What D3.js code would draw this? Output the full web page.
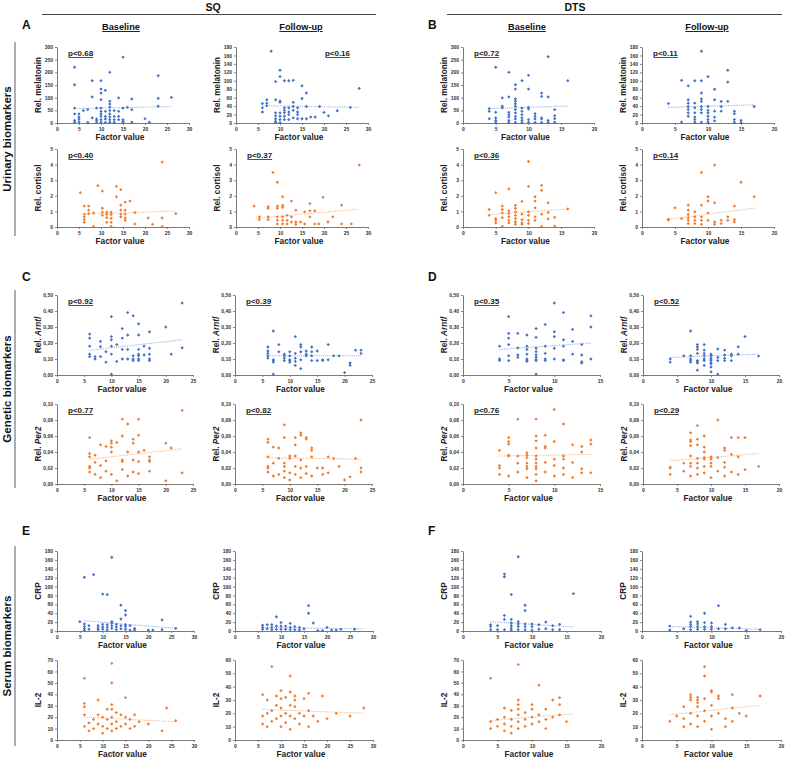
<!DOCTYPE html>
<html><head><meta charset="utf-8">
<script src="https://cdn.jsdelivr.net/npm/d3@7/dist/d3.min.js"></script>
<style>body{margin:0;background:#fff;}svg{display:block;font-family:"Liberation Sans",Arial,sans-serif;}</style>
</head><body><svg id="c" width="789" height="760"></svg>
<script>
// ---------------- DATA ----------------
const groups = ["SQ", "DTS"];
const timepoints = ["Baseline", "Follow-up"];
const panelLetters = ["A", "B", "C", "D", "E", "F"];
const rowLabels = ["Urinary biomarkers", "Genetic biomarkers", "Serum biomarkers"];

// SQ baseline melatonin [factor, value]
const sqBMel = [[4,220],[4,151],[4,59],[4,36],[4,10],[4,3],[5,36],[5,24],[5,16],[5,5],[6,49],[7,53],[7,2],
[8,167],[8,103],[8,20],[9,59],[9,16],[9,10],[9,2],[10,167],[10,134],[10,118],[10,92],[10,59],[10,46],[10,36],[10,26],[10,13],[10,3],
[11,129],[11,46],[11,26],[11,16],[11,2],[12,200],[12,86],[12,75],[12,63],[12,49],[12,36],[12,24],[12,13],[12,3],
[13,49],[13,26],[13,13],[13,2],[14,99],[14,46],[14,26],[14,13],[15,260],[15,59],[15,13],[15,7],[15,2],
[16,62],[17,95],[17,53],[17,3],[20,17],[21,3],[23,187],[23,97],[23,66],[26,101]];
const sqBMelTrend = [4.5,57,26,65];
const sqFMel = [[8,170],[9,98],[10,125],[10,110],[11,100],[12,100],[13,101],[15,88],[16,71],[15,58],[16,39],
[13,49],[13,39],[13,30],[10,52],[10,49],[9,55],[7,55],[7,47],[7,41],[6,46],[6,36],[6,26],
[9,24],[9,17],[9,10],[9,4],[10,24],[10,16],[10,8],[10,1],[11,36],[11,30],[11,24],[11,16],[11,8],
[12,36],[12,26],[12,20],[12,8],[14,36],[14,26],[14,20],[14,10],[13,12],[15,10],[16,10],[17,14],[18,14],
[19,39],[20,25],[21,17],[23,29],[26,37],[28,82],[9,1]];
const sqFMelTrend = [6,41,28,37];
const dtsBMel = [[4,57],[4,46],[4,17],[5,220],[5,42],[5,20],[5,10],[5,2],[6,99],[6,66],[6,60],
[7,200],[7,103],[7,42],[7,33],[7,24],[7,10],[7,2],[8,151],[8,134],[8,95],[8,86],[8,76],[8,66],[8,53],[8,40],[8,26],[8,16],[8,2],
[9,167],[9,59],[9,46],[9,33],[9,20],[9,10],[9,1],[10,188],[10,134],[10,62],[10,55],[10,13],[10,2],
[11,37],[11,26],[11,16],[11,2],[12,118],[12,105],[12,20],[12,16],[12,2],[13,262],[13,103],[13,10],[13,2],
[14,53],[14,29],[14,17],[14,3],[16,167]];
const dtsBMelTrend = [4,57,16,67];
const dtsFMel = [[4,46],[6,101],[6,2],[7,88],[7,55],[7,47],[7,39],[7,32],[7,24],[7,16],
[8,100],[8,47],[8,36],[8,24],[8,14],[8,8],[8,2],[9,170],[9,100],[9,71],[9,57],[9,51],[9,39],[9,32],[9,24],[9,2],
[10,110],[10,39],[10,30],[10,24],[10,16],[10,8],[10,2],[11,80],[11,55],[11,28],[11,14],[11,5],
[12,51],[12,39],[12,28],[13,125],[13,97],[13,51],[14,28],[14,22],[14,8],[14,2],[15,6],[15,1],[17,39]];
const dtsFMelTrend = [4,37,17,43];

const sqBCor = [[6.2,1.34],[6.2,0.82],[6.2,0.65],[6.2,0.47],[6.2,0.3],[7.2,1.34],[7.2,1.08],[7.2,0.86],[5.3,2.2],[8.3,0.9],[8.3,0.04],
[9.3,2.65],[10.3,2.3],[10.3,1.2],[10.3,0.95],[10.3,0.75],[11.3,0.95],[11.3,0.8],[11.3,0.6],[11.3,0.3],
[12.3,0.95],[12.3,0.8],[12.3,0.55],[12.3,0.3],[12.3,0.04],[13.5,2.6],[13.5,1.94],[14.5,2.4],[14.5,1.4],[14.5,1.08],[14.5,0.82],[14.5,0.65],
[15.5,1.6],[15.5,1.08],[15.5,0.82],[15.5,0.58],[15.5,0.43],[16.6,1.66],[17.7,0.93],[17.7,0.2],[20.7,0.58],[21.7,0.17],[23.9,4.16],[23.9,0.58],[23.9,0.04],[27,0.86]];
const sqBCorTrend = [6,0.82,27,1.02];
const sqFCor = [[4.1,1.34],[5.3,0.65],[5.3,0.47],[7.3,0.65],[7.3,0.47],[7.3,1.3],[7.3,1.2],[8.4,3.5],[9.4,2.87],[9.4,1.34],[9.4,1.2],[9.4,0.65],[9.4,0.43],[9.4,0.2],
[10.6,1.94],[10.6,1.38],[10.6,1.25],[10.6,0.65],[10.6,0.43],[10.6,0.2],[11.6,0.75],[11.6,0.43],[11.6,0.2],[12.6,1.66],[12.6,0.65],[12.6,0.32],
[13.6,1.08],[13.6,0.32],[13.6,0.17],[14.7,0.32],[15.6,0.97],[15.6,0.2],[16.8,1.5],[16.8,1.03],[16.8,0.65],[17.9,1.03],[17.9,0.2],[18.8,0.2],
[19.8,1.9],[20.9,0.32],[22,0.65],[24,1.4],[24,0.2],[26.2,0.2],[28,3.97]];
const sqFCorTrend = [4.5,0.55,28,1.15];
const dtsBCor = [[4,1.12],[4,0.75],[5,2.2],[5,0.54],[5,0.43],[5,0.26],[6,1.34],[6,1.12],[6,0.9],[6,0.6],[6,0.04],
[7,2.44],[7,1.03],[7,0.86],[7,0.65],[7,0.43],[7,0.26],[8,1.4],[8,1.2],[8,0.97],[8,0.75],[8,0.54],[8,0.32],[8,0.17],
[9,1.64],[9,0.82],[9,0.47],[9,0.26],[9,0.17],[10,4.2],[10,2.6],[10,0.97],[10,0.75],[10,0.43],[10,0.22],
[11,1.94],[11,1.66],[11,1.23],[11,0.65],[11,0.43],[12,2.67],[12,2.35],[12,0.82],[12,0.04],
[13,1.55],[13,0.93],[13,0.52],[14,0.62],[14,0.06],[16,1.16]];
const dtsBCorTrend = [4,0.8,16,1.15];
const dtsFCor = [[4,0.5],[4,0.45],[5,1.23],[6,0.54],[7,1.4],[7,1.08],[7,0.8],[7,0.6],[7,0.43],[7,0.22],
[8,0.97],[8,0.65],[8,0.43],[8,0.22],[9,3.5],[9,1.4],[9,0.65],[9,0.43],[9,0.17],[10,1.94],[10,1.66],[10,0.9],[10,0.43],
[11,3.97],[11,1.55],[11,0.32],[11,0.17],[12,0.43],[12,0.22],[13,0.65],[13,0.43],[14,1.34],[14,0.47],[14,0.32],[15,2.87],[17,1.94]];
const dtsFCorTrend = [4,0.5,17,1.2];

const sqBArn = [[6,0.256],[6,0.23],[6,0.18],[6,0.13],[6,0.115],[7,0.115],[7,0.10],[8,0.21],[8,0.177],[8,0.115],[9,0.146],[9,0.08],
[10,0.365],[10,0.24],[10,0.22],[10,0.18],[10,0.13],[10,0.005],[11,0.19],[11,0.085],[12,0.29],[12,0.23],[12,0.16],[12,0.10],
[13,0.39],[13,0.25],[13,0.16],[13,0.10],[14,0.37],[14,0.12],[14,0.10],[14,0.09],[15,0.32],[15,0.25],[15,0.16],[15,0.13],[15,0.12],[15,0.10],[15,0.09],
[16,0.18],[16,0.125],[17,0.27],[17,0.167],[17,0.13],[17,0.10],[17,0.09],[20,0.30],[21,0.13],[23,0.45],[23,0.17]];
const sqBArnTrend = [6,0.155,23,0.22];
const sqFArn = [[6,0.175],[6,0.15],[6,0.135],[6,0.12],[6,0.105],[7,0.275],[7,0.095],[7,0.08],[7,0.09],[7,0.005],
[8,0.19],[8,0.145],[9,0.13],[9,0.12],[9,0.105],[9,0.09],[10,0.145],[10,0.12],[10,0.095],[10,0.08],[10,0.09],
[11,0.24],[11,0.135],[11,0.105],[11,0.085],[11,0.06],[12,0.19],[12,0.175],[12,0.145],[12,0.095],[12,0.04],
[13,0.15],[13,0.13],[13,0.12],[14,0.175],[14,0.145],[14,0.12],[14,0.09],[15,0.15],[15,0.09],[16,0.095],[16,0.09],
[17,0.19],[17,0.095],[18,0.12],[19,0.12],[20,0.015],[21,0.075],[21,0.06],[22,0.155],[23,0.155],[23,0.135]];
const sqFArnTrend = [6,0.12,23,0.12];
const dtsBArn = [[4,0.18],[4,0.10],[4,0.09],[5,0.365],[5,0.26],[5,0.23],[5,0.19],[5,0.12],[5,0.09],
[6,0.26],[6,0.17],[6,0.125],[6,0.11],[7,0.25],[7,0.18],[7,0.16],[7,0.13],[7,0.10],[7,0.09],[7,0.085],
[8,0.29],[8,0.235],[8,0.167],[8,0.146],[8,0.125],[8,0.11],[8,0.095],[8,0.09],[8,0.005],
[9,0.315],[9,0.18],[9,0.135],[9,0.10],[9,0.09],[10,0.45],[10,0.27],[10,0.24],[10,0.167],[10,0.10],
[11,0.39],[11,0.22],[11,0.18],[11,0.095],[11,0.09],[12,0.285],[12,0.21],[12,0.13],
[13,0.19],[13,0.125],[13,0.083],[13,0.075],[14,0.37],[14,0.30],[14,0.10]];
const dtsBArnTrend = [4,0.16,14,0.20];
const dtsFArn = [[4,0.10],[4,0.08],[6,0.12],[7,0.275],[7,0.12],[7,0.10],[7,0.09],[7,0.08],
[8,0.19],[8,0.175],[8,0.16],[8,0.135],[8,0.085],[8,0.075],[8,0.09],[8,0.03],
[9,0.19],[9,0.156],[9,0.135],[9,0.12],[9,0.10],[9,0.09],[9,0.06],
[10,0.13],[10,0.12],[10,0.105],[10,0.095],[10,0.075],[10,0.09],[10,0.07],[10,0.05],[10,0.02],
[11,0.163],[11,0.11],[11,0.09],[11,0.005],[12,0.156],[12,0.125],[12,0.105],[12,0.09],
[13,0.13],[13,0.12],[13,0.09],[14,0.176],[14,0.13],[15,0.24],[17,0.118]];
const dtsFArnTrend = [4,0.11,17,0.13];

const sqBPer = [[6,0.058],[6,0.038],[6,0.034],[6,0.022],[6,0.02],[6,0.015],[7,0.036],[7,0.027],[7,0.012],
[8,0.049],[8,0.023],[8,0.008],[9,0.047],[9,0.029],[9,0.016],[10,0.054],[10,0.051],[10,0.046],[10,0.04],[10,0.012],
[11,0.052],[11,0.004],[12,0.081],[12,0.06],[12,0.03],[12,0.028],[12,0.018],[13,0.075],[13,0.04],[13,0.01],
[14,0.056],[14,0.051],[14,0.03],[14,0.015],[15,0.081],[15,0.061],[15,0.04],[15,0.028],[15,0.013],
[16,0.042],[17,0.034],[17,0.03],[17,0.028],[17,0.016],[20,0.051],[20,0.004],[21,0.045],[23,0.092],[23,0.014]];
const sqBPerTrend = [6,0.031,23,0.044];
const sqFPer = [[6,0.056],[6,0.052],[6,0.034],[6,0.022],[6,0.02],[6,0.015],[7,0.046],[7,0.026],[7,0.01],
[8,0.045],[8,0.032],[8,0.012],[9,0.074],[9,0.058],[9,0.026],[9,0.022],[9,0.008],[9,0.016],[10,0.035],[10,0.032],[10,0.014],[10,0.005],
[11,0.058],[11,0.049],[11,0.035],[11,0.022],[11,0.012],[12,0.064],[12,0.061],[12,0.03],[12,0.02],[12,0.008],
[13,0.058],[13,0.056],[13,0.022],[13,0.013],[14,0.045],[14,0.042],[14,0.034],[14,0.01],[15,0.02],[16,0.02],[16,0.012],
[17,0.034],[17,0.014],[18,0.032],[19,0.022],[20,0.005],[21,0.009],[22,0.032],[23,0.08],[23,0.02],[23,0.015]];
const sqFPerTrend = [6,0.033,23,0.031];
const dtsBPer = [[4,0.042],[4,0.023],[4,0.02],[4,0.012],[5,0.058],[5,0.053],[5,0.05],[5,0.036],[5,0.035],[5,0.01],
[6,0.081],[6,0.035],[6,0.026],[6,0.015],[7,0.039],[7,0.036],[7,0.033],[7,0.026],[7,0.022],[7,0.019],[7,0.008],
[8,0.081],[8,0.06],[8,0.054],[8,0.045],[8,0.035],[8,0.031],[8,0.026],[8,0.022],[8,0.019],[8,0.012],[8,0.004],
[9,0.061],[9,0.047],[9,0.045],[9,0.027],[9,0.015],[10,0.093],[10,0.053],[10,0.031],[10,0.023],[10,0.01],
[11,0.075],[11,0.035],[11,0.031],[11,0.02],[11,0.012],[12,0.049],[12,0.027],[12,0.008],
[13,0.047],[13,0.04],[13,0.019],[13,0.014],[14,0.055],[14,0.05],[14,0.014]];
const dtsBPerTrend = [4,0.035,14,0.037];
const dtsFPer = [[4,0.021],[4,0.02],[4,0.012],[6,0.026],[6,0.016],[7,0.064],[7,0.055],[7,0.053],[7,0.048],[7,0.035],[7,0.026],[7,0.022],[7,0.01],
[8,0.073],[8,0.056],[8,0.049],[8,0.032],[8,0.026],[8,0.02],[8,0.012],[9,0.06],[9,0.046],[9,0.04],[9,0.033],[9,0.031],[9,0.022],[9,0.014],
[10,0.034],[10,0.031],[10,0.026],[10,0.022],[10,0.008],[11,0.08],[11,0.033],[11,0.016],[12,0.045],[12,0.042],[12,0.027],[12,0.021],[12,0.01],
[13,0.058],[13,0.037],[13,0.015],[14,0.058],[14,0.034],[14,0.012],[15,0.058],[15,0.018],[17,0.022]];
const dtsFPerTrend = [4,0.029,17,0.038];

const sqBCrp = [[6,121],[8,127],[10,83],[11,82],[12,166],[14,58],[15,46],[15,36],[14,27],[23,25],[5,21],
[6,16],[6,10],[6,5],[6,1],[7,12],[7,4],[9,12],[9,7],[9,3],[10,15],[10,9],[10,4],[11,14],[11,8],[11,2],
[12,21],[12,18],[12,12],[12,6],[13,15],[13,9],[13,3],[14,12],[14,5],[15,14],[15,10],[15,4],[16,12],[16,2],
[17,6],[17,2],[20,2],[21,2],[23,3],[26,6]];
const sqBCrpTrend = [6,23,26,6];
const sqFCrp = [[16,57],[16,40],[9,32],[17,18],[10,19],[12,17],[6,13],[6,8],[6,4],[7,14],[7,5],[8,14],[8,8],[8,3],
[9,11],[9,4],[10,11],[10,4],[11,11],[11,4],[12,8],[12,3],[13,10],[13,3],[14,8],[14,2],[15,5],[18,1],[19,1],
[20,8],[21,2],[22,2],[23,4],[26,4]];
const sqFCrpTrend = [6,8,28,5];
const dtsBCrp = [[6,128],[6,122],[8,167],[7,82],[16,84],[9,58],[9,46],[6,35],[6,26],[7,26],
[4,14],[4,10],[4,3],[5,12],[5,3],[6,3],[7,18],[7,12],[7,7],[7,2],[8,21],[8,16],[8,10],[8,3],[9,16],[9,10],[9,3],
[10,16],[10,10],[10,2],[11,14],[11,4],[12,20],[12,5],[13,12],[13,3],[14,15],[14,3]];
const dtsBCrpTrend = [4,21,16,9];
const dtsFCrp = [[11,57],[9,40],[7,33],[4,11],[4,2],[6,5],[7,20],[7,15],[7,10],[7,3],[8,21],[8,16],[8,10],[8,4],
[9,19],[9,10],[9,4],[10,18],[10,10],[10,4],[11,5],[12,15],[12,5],[13,7],[14,7],[15,1],[17,3]];
const dtsFCrpTrend = [4,10,17,4];

const sqBIl2 = [[6,54],[6,32],[6,29],[6,22],[6,12],[7,15],[7,8],[8,18],[8,10],[9,35],[9,22],[9,14],[10,20],[10,12],[10,6],
[11,27],[11,18],[11,10],[12,67],[12,50],[12,31],[12,27],[12,20],[12,14],[12,8],[13,24],[13,16],[13,10],
[14,22],[14,12],[15,37],[15,20],[15,14],[16,18],[16,10],[17,22],[17,12],[18,16],[20,14],[23,8],[24,28],[26,17]];
const sqBIl2Trend = [6,20,26,16];
const sqFIl2 = [[6,34],[6,18],[6,12],[7,30],[7,20],[7,10],[8,55],[8,22],[8,14],[9,33],[9,26],[9,16],[10,37],[10,31],[10,24],[10,18],[10,10],
[11,32],[11,20],[11,13],[12,48],[12,36],[12,26],[12,18],[12,8],[13,33],[13,30],[13,25],[13,16],[14,20],[14,12],
[15,31],[15,18],[16,35],[16,22],[16,10],[17,18],[18,14],[19,33],[20,16],[22,20],[25,18],[28,24]];
const sqFIl2Trend = [6,23,28,20];
const dtsBIl2 = [[4,54],[4,16],[4,10],[5,18],[5,12],[6,28],[6,20],[6,14],[6,8],[7,26],[7,18],[7,12],[7,6],
[8,66],[8,35],[8,31],[8,27],[8,22],[8,16],[8,10],[9,24],[9,18],[9,12],[10,31],[10,27],[10,20],[10,14],
[11,48],[11,22],[11,16],[12,27],[12,18],[12,10],[13,35],[13,20],[14,37],[14,31],[14,22],[15,16]];
const dtsBIl2Trend = [4,17,16,23];
const dtsFIl2 = [[4,14],[5,18],[6,25],[6,16],[6,10],[7,34],[7,32],[7,30],[7,20],[7,12],[8,32],[8,30],[8,28],[8,25],[8,18],[8,10],
[9,55],[9,48],[9,31],[9,22],[9,14],[10,37],[10,36],[10,26],[10,18],[10,8],[11,33],[11,31],[11,20],[12,16],[12,10],
[13,34],[13,24],[13,14],[14,20],[15,18],[17,33]];
const dtsFIl2Trend = [4,19,17,26];

const pSQ = ["p<0.68","p<0.16","p<0.40","p<0.37","p<0.92","p<0.39","p<0.77","p<0.82"];
const pDTS = ["p<0.72","p<0.11","p<0.36","p<0.14","p<0.35","p<0.52","p<0.76","p<0.29"];

// y-axis tick values
const ticksMel300 = [0,50,100,150,200,250,300];
const ticksMel180 = [0,20,40,60,80,100,120,140,160,180];
const ticksCor = [0,1,2,3,4,5];
const ticksArn = [0,0.1,0.2,0.3,0.4,0.5];
const ticksPer = [0,0.02,0.04,0.06,0.08,0.1];
const ticksCrp = [0,20,40,60,80,100,120,140,160,180];
const ticksIl70 = [0,10,20,30,40,50,60,70];
const ticksIl60 = [0,10,20,30,40,50,60];
// x-axis tick values
const xTicks30 = [0,5,10,15,20,25,30];
const xTicks25 = [0,5,10,15,20,25];
const xTicks20 = [0,5,10,15,20];
const xTicks15 = [0,5,10,15];

// ---------------- LAYOUT ----------------
const BLUE = "#4472C4", ORANGE = "#ED7D31";
const BLUE_T = "#9FB7E4", ORANGE_T = "#F5BE97";
const svg = d3.select("#c");
const comma = d => d3.format(".2f")(d).replace(".", ",");

const cols = [
  {mel:[57,189], cor:[57,189], gen:[57,193], ser:[57,194]},
  {mel:[236,368], cor:[236,368], gen:[235,372], ser:[235,373]},
  {mel:[463,594], cor:[463,594], gen:[463,600], ser:[463,601]},
  {mel:[642,774], cor:[642,774], gen:[643,779], ser:[642,781]}
];
const rowsY = {mel:[47,123], cor:[149,227], arn:[295,375], per:[404,484], crp:[551,631], il2:[660,740]};

function panel(o) {
  const x = d3.scaleLinear().domain([0, d3.max(o.xt)]).range(o.xr);
  const y = d3.scaleLinear().domain([0, d3.max(o.yt)]).range([o.yr[1], o.yr[0]]);
  const g = svg.append("g");
  const ya = g.append("g").attr("transform", `translate(${o.xr[0]},0)`)
    .call(d3.axisLeft(y).tickValues(o.yt).tickSize(2).tickSizeOuter(0).tickPadding(2).tickFormat(o.fmt || d3.format("d")));
  const xa = g.append("g").attr("transform", `translate(0,${o.yr[1]})`)
    .call(d3.axisBottom(x).tickValues(o.xt).tickSize(2).tickSizeOuter(0).tickPadding(2).tickFormat(d3.format("d")));
  [ya, xa].forEach(a => {
    a.select(".domain").attr("stroke", "#6b6b6b").attr("stroke-width", 0.9);
    a.selectAll(".tick line").attr("stroke", "#6b6b6b").attr("stroke-width", 0.8);
    a.selectAll(".tick text").attr("font-size", 5).attr("font-weight", "bold").attr("fill", "#333")
      .attr("font-family", "Liberation Sans, Arial, sans-serif");
  });
  const t = o.trend;
  g.append("line").attr("x1", x(t[0])).attr("y1", y(t[1])).attr("x2", x(t[2])).attr("y2", y(t[3]))
    .attr("stroke", o.tc).attr("stroke-width", 1.1).attr("stroke-dasharray", "1.2,1");
  g.selectAll("path.pt").data(o.data).join("path").attr("class", "pt")
    .attr("transform", d => `translate(${x(d[0])},${y(d[1])}) rotate(45)`)
    .attr("d", d3.symbol(d3.symbolSquare, 5.5)).attr("fill", o.color);
  const lab = g.append("text").attr("transform", `translate(${o.xr[0] - 16},${(o.yr[0] + o.yr[1]) / 2}) rotate(-90)`)
    .attr("text-anchor", "middle").attr("font-size", 8.2).attr("font-weight", "bold").attr("fill", "#222");
  lab.append("tspan").text(o.ylab[0]);
  if (o.ylab[1]) lab.append("tspan").attr("font-style", "italic").text(o.ylab[1]);
  if (o.xlab) g.append("text").attr("x", (o.xr[0] + o.xr[1]) / 2 - 3).attr("y", o.yr[1] + 17)
    .attr("text-anchor", "middle").attr("font-size", 8.3).attr("font-weight", "bold").attr("fill", "#222").text("Factor value");
  if (o.p) {
    const px = o.pRight ? x(20.2) : o.xr[0] + 11;
    g.append("text").attr("x", px).attr("y", o.yr[0] + 9).attr("font-size", 8).attr("font-weight", "bold")
      .attr("fill", "#222").attr("text-decoration", "underline").text(o.p);
  }
}

const melData = [[sqBMel, sqBMelTrend, ticksMel300], [sqFMel, sqFMelTrend, ticksMel180], [dtsBMel, dtsBMelTrend, ticksMel300], [dtsFMel, dtsFMelTrend, ticksMel180]];
const corData = [[sqBCor, sqBCorTrend], [sqFCor, sqFCorTrend], [dtsBCor, dtsBCorTrend], [dtsFCor, dtsFCorTrend]];
const arnData = [[sqBArn, sqBArnTrend], [sqFArn, sqFArnTrend], [dtsBArn, dtsBArnTrend], [dtsFArn, dtsFArnTrend]];
const perData = [[sqBPer, sqBPerTrend], [sqFPer, sqFPerTrend], [dtsBPer, dtsBPerTrend], [dtsFPer, dtsFPerTrend]];
const crpData = [[sqBCrp, sqBCrpTrend], [sqFCrp, sqFCrpTrend], [dtsBCrp, dtsBCrpTrend], [dtsFCrp, dtsFCrpTrend]];
const il2Data = [[sqBIl2, sqBIl2Trend, ticksIl70], [sqFIl2, sqFIl2Trend, ticksIl60], [dtsBIl2, dtsBIl2Trend, ticksIl70], [dtsFIl2, dtsFIl2Trend, ticksIl60]];
const xtUrin = [xTicks30, xTicks30, xTicks20, xTicks20];
const xtGen = [xTicks25, xTicks25, xTicks15, xTicks20];
const xtSer = [xTicks30, xTicks30, xTicks20, xTicks20];

for (let c = 0; c < 4; c++) {
  const pv = c < 2 ? pSQ : pDTS, k = c % 2;
  panel({xr: cols[c].mel, yr: rowsY.mel, xt: xtUrin[c], yt: melData[c][2], data: melData[c][0], trend: melData[c][1],
    color: BLUE, tc: BLUE_T, ylab: ["Rel. melatonin"], xlab: true, p: pv[k], pRight: c === 1});
  panel({xr: cols[c].cor, yr: rowsY.cor, xt: xtUrin[c], yt: ticksCor, data: corData[c][0], trend: corData[c][1],
    color: ORANGE, tc: ORANGE_T, ylab: ["Rel. cortisol"], xlab: true, p: pv[2 + k]});
  panel({xr: cols[c].gen, yr: rowsY.arn, xt: xtGen[c], yt: ticksArn, fmt: comma, data: arnData[c][0], trend: arnData[c][1],
    color: BLUE, tc: BLUE_T, ylab: ["Rel. ", "Arntl"], xlab: true, p: pv[4 + k]});
  panel({xr: cols[c].gen, yr: rowsY.per, xt: xtGen[c], yt: ticksPer, fmt: comma, data: perData[c][0], trend: perData[c][1],
    color: ORANGE, tc: ORANGE_T, ylab: ["Rel. ", "Per2"], xlab: true, p: pv[6 + k]});
  panel({xr: cols[c].ser, yr: rowsY.crp, xt: xtSer[c], yt: ticksCrp, data: crpData[c][0], trend: crpData[c][1],
    color: BLUE, tc: BLUE_T, ylab: ["CRP"], xlab: true});
  panel({xr: cols[c].ser, yr: rowsY.il2, xt: xtSer[c], yt: il2Data[c][2], data: il2Data[c][0], trend: il2Data[c][1],
    color: ORANGE, tc: ORANGE_T, ylab: ["IL-2"], xlab: true});
}

const hdr = [{t: groups[0], cx: 213, l: 42, r: 376}, {t: groups[1], cx: 575, l: 447, r: 782}];
hdr.forEach(h => {
  svg.append("text").attr("x", h.cx).attr("y", 11).attr("text-anchor", "middle").attr("font-size", 10.5)
    .attr("font-weight", "bold").attr("fill", "#111").text(h.t);
  svg.append("line").attr("x1", h.l).attr("x2", h.r).attr("y1", 14.5).attr("y2", 14.5).attr("stroke", "#333").attr("stroke-width", 0.9);
});
[[121, 0], [301, 1], [527, 0], [707, 1]].forEach(([cx, i]) => {
  svg.append("text").attr("x", cx).attr("y", 30).attr("text-anchor", "middle").attr("font-size", 9.2)
    .attr("font-weight", "bold").attr("fill", "#111").attr("text-decoration", "underline").text(timepoints[i]);
});
[[22, 29, 0], [428, 29, 1], [22, 281, 2], [428, 281, 3], [22, 535, 4], [428, 535, 5]].forEach(([x, y, i]) => {
  svg.append("text").attr("x", x).attr("y", y).attr("font-size", 12).attr("font-weight", "bold").attr("fill", "#111").text(panelLetters[i]);
});
[[42, 236, 0], [290, 488, 1], [546, 746, 2]].forEach(([y0, y1, i]) => {
  svg.append("line").attr("x1", 15).attr("x2", 15).attr("y1", y0).attr("y2", y1).attr("stroke", "#777").attr("stroke-width", 1.2);
  svg.append("text").attr("transform", `translate(11,${(y0 + y1) / 2}) rotate(-90)`).attr("text-anchor", "middle")
    .attr("font-size", 11.5).attr("font-weight", "bold").attr("fill", "#111").text(rowLabels[i]);
});
</script></body></html>
